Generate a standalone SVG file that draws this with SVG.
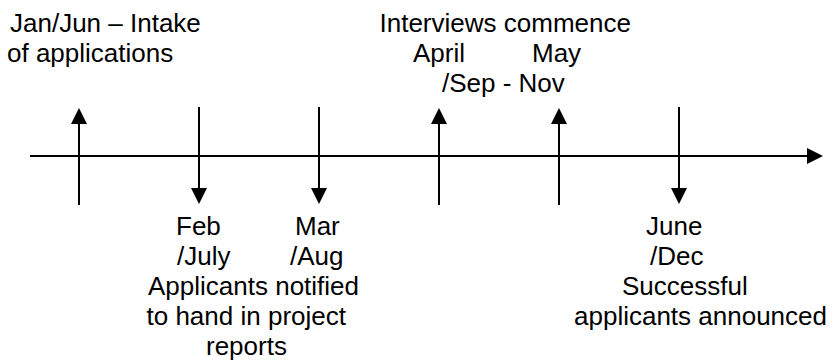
<svg xmlns="http://www.w3.org/2000/svg" width="835" height="360" viewBox="0 0 835 360">
  <defs>
    <marker id="head" markerUnits="userSpaceOnUse" markerWidth="16" markerHeight="16" refX="0" refY="8" orient="auto" viewBox="0 0 16 16">
      <path d="M0,0 L16,8 L0,16 z" fill="#000"/>
    </marker>
    <style>
      text { font-family: "Liberation Sans", Arial, sans-serif; font-size: 26px; fill: #000; }
      .ln { stroke: #000; stroke-width: 2; fill: none; }
      .arr { marker-end: url(#head); }
    </style>
  </defs>
  <rect width="835" height="360" fill="#fff"/>
  <g id="connectors">
    <line class="ln arr" x1="30" y1="156" x2="807" y2="156"/>
    <line class="ln arr" x1="79" y1="205" x2="79" y2="124"/>
    <line class="ln arr" x1="199" y1="107" x2="199" y2="188"/>
    <line class="ln arr" x1="319" y1="107" x2="319" y2="188"/>
    <line class="ln arr" x1="439" y1="205" x2="439" y2="124"/>
    <line class="ln arr" x1="559" y1="205" x2="559" y2="124"/>
    <line class="ln arr" x1="679" y1="107" x2="679" y2="188"/>
  </g>
  <g id="intake">
    <text x="10" y="32">Jan/Jun – Intake</text>
    <text x="7" y="62">of applications</text>
  </g>
  <g id="interviews">
    <text x="379.5" y="32">Interviews commence</text>
    <text x="413" y="62">April</text>
    <text x="532" y="62">May</text>
    <text x="442" y="92">/Sep - Nov</text>
  </g>
  <g id="feb">
    <text x="176" y="235">Feb</text>
    <text x="177" y="265">/July</text>
  </g>
  <g id="mar">
    <text x="295" y="235">Mar</text>
    <text x="290" y="265">/Aug</text>
  </g>
  <g id="notify">
    <text x="148" y="295">Applicants notified</text>
    <text x="146.5" y="325">to hand in project</text>
    <text x="206" y="355">reports</text>
  </g>
  <g id="june">
    <text x="646" y="235">June</text>
    <text x="650" y="265">/Dec</text>
    <text x="622" y="295">Successful</text>
    <text x="574" y="325">applicants announced</text>
  </g>
</svg>
